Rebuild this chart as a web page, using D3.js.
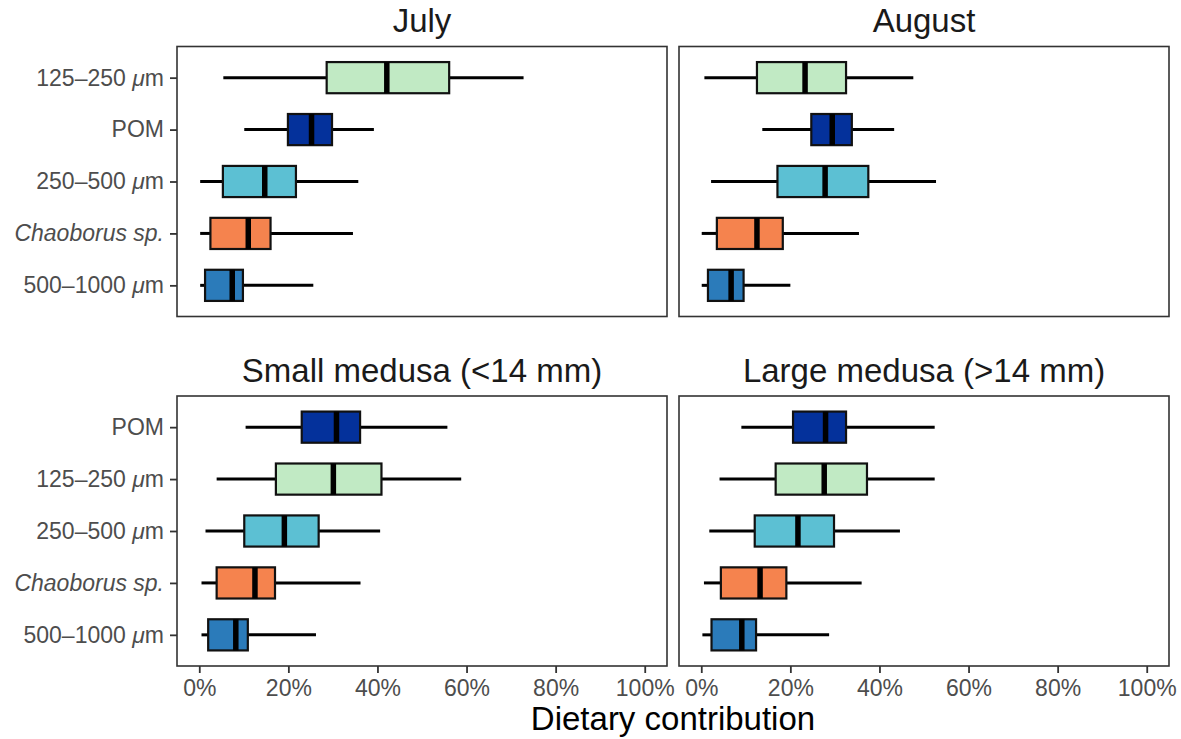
<!DOCTYPE html>
<html>
<head>
<meta charset="utf-8">
<script src="https://cdn.jsdelivr.net/npm/d3@7"></script>
<style>
  html, body { margin: 0; padding: 0; background: #fff; }
  svg { display: block; font-family: "Liberation Sans", Arial, Helvetica, sans-serif; }
</style>
</head>
<body>
<svg id="chart" width="1181" height="739"></svg>
<script>
// Prey sources (each with its fill colour)
const sources = ["125–250 μm", "POM", "250–500 μm", "Chaoborus sp.", "500–1000 μm"];
const sourceColors = ["#c1eac4", "#04319b", "#5cc0d3", "#f5834e", "#2b7bba"];

// Row order (top to bottom) for each row of facets
const topRowOrder = ["125–250 μm", "POM", "250–500 μm", "Chaoborus sp.", "500–1000 μm"];
const bottomRowOrder = ["POM", "125–250 μm", "250–500 μm", "Chaoborus sp.", "500–1000 μm"];

const panelTitles = ["July", "August", "Small medusa (<14 mm)", "Large medusa (>14 mm)"];

// Box statistics in percent, listed in `sources` order:
// [lower whisker, first quartile, median, third quartile, upper whisker]
const julyStats = [
  [5.4, 28.6, 42.1, 56.1, 72.8],
  [10.1, 19.9, 25.2, 29.8, 39.2],
  [0.2, 5.3, 14.7, 21.7, 35.7],
  [0.2, 2.5, 11.0, 16.0, 34.5],
  [0.2, 1.3, 7.4, 9.8, 25.6]
];
const augustStats = [
  [0.7, 12.5, 23.3, 32.5, 47.6],
  [13.7, 24.7, 29.4, 33.8, 43.3],
  [2.2, 17.1, 27.8, 37.5, 52.7],
  [0.1, 3.5, 12.5, 18.3, 35.4],
  [0.1, 1.5, 6.7, 9.5, 20.0]
];
const smallMedusaStats = [
  [3.9, 17.2, 30.1, 40.9, 58.8],
  [10.4, 23.0, 30.8, 36.1, 55.7],
  [1.4, 10.1, 19.1, 26.8, 40.6],
  [0.5, 3.9, 12.5, 17.0, 36.2],
  [0.5, 2.0, 8.2, 10.9, 26.2]
];
const largeMedusaStats = [
  [4.1, 16.7, 27.6, 37.2, 52.4],
  [9.0, 20.6, 27.9, 32.5, 52.4],
  [1.8, 12.0, 21.7, 29.8, 44.6],
  [0.6, 4.4, 13.2, 19.1, 36.0],
  [0.25, 2.3, 9.1, 12.3, 28.7]
];

const xTicks = [0, 20, 40, 60, 80, 100];
const xTitle = "Dietary contribution";

// ---- layout ----
const svg = d3.select("#chart");
const colX = [[177, 667], [679, 1169]];
const rowY = [[46.5, 316.5], [396, 666]];

const panels = [
  { title: panelTitles[0], stats: julyStats, col: 0, row: 0, order: topRowOrder },
  { title: panelTitles[1], stats: augustStats, col: 1, row: 0, order: topRowOrder },
  { title: panelTitles[2], stats: smallMedusaStats, col: 0, row: 1, order: bottomRowOrder },
  { title: panelTitles[3], stats: largeMedusaStats, col: 1, row: 1, order: bottomRowOrder }
];

const labelFont = 23;
const tickGrey = "#4d4d4d";

// Writes a source name with the right italics (species italic, μ italic)
function richLabel(textSel, name) {
  textSel.text(null);
  if (name.startsWith("Chaoborus")) {
    textSel.append("tspan").attr("font-style", "italic").text(name);
    return;
  }
  const i = name.indexOf("μ");
  if (i < 0) { textSel.text(name); return; }
  textSel.append("tspan").text(name.slice(0, i));
  textSel.append("tspan").attr("font-style", "italic").text("μ");
  textSel.append("tspan").text(name.slice(i + 1));
}

panels.forEach(p => {
  const [x0, x1] = colX[p.col];
  const [y0, y1] = rowY[p.row];
  const w = x1 - x0, h = y1 - y0;

  // 5% expansion either side of 0–100%
  const x = d3.scaleLinear().domain([-5, 105]).range([x0, x1]);
  const y = d3.scalePoint().domain(p.order).range([y0, y1]).padding(0.6);
  const boxH = y.step() * 0.6;

  const g = svg.append("g");

  // panel frame
  g.append("rect")
    .attr("x", x0).attr("y", y0).attr("width", w).attr("height", h)
    .attr("fill", "#fff").attr("stroke", "#333").attr("stroke-width", 1.6);

  // facet title
  g.append("text")
    .attr("x", (x0 + x1) / 2).attr("y", y0 - 14.5)
    .attr("text-anchor", "middle")
    .attr("font-size", 33).attr("fill", "#1a1a1a")
    .text(p.title);

  const rows = sources.map((s, i) => ({ source: s, color: sourceColors[i], v: p.stats[i] }));

  const box = g.selectAll("g.box").data(rows).join("g").attr("class", "box");

  // whiskers
  box.append("line")
    .attr("x1", d => x(d.v[0])).attr("x2", d => x(d.v[1]))
    .attr("y1", d => y(d.source)).attr("y2", d => y(d.source))
    .attr("stroke", "#000").attr("stroke-width", 3);
  box.append("line")
    .attr("x1", d => x(d.v[3])).attr("x2", d => x(d.v[4]))
    .attr("y1", d => y(d.source)).attr("y2", d => y(d.source))
    .attr("stroke", "#000").attr("stroke-width", 3);

  // interquartile box
  box.append("rect")
    .attr("x", d => x(d.v[1])).attr("width", d => x(d.v[3]) - x(d.v[1]))
    .attr("y", d => y(d.source) - boxH / 2).attr("height", boxH)
    .attr("fill", d => d.color).attr("stroke", "#111").attr("stroke-width", 2.2);

  // median
  box.append("line")
    .attr("x1", d => x(d.v[2])).attr("x2", d => x(d.v[2]))
    .attr("y1", d => y(d.source) - boxH / 2).attr("y2", d => y(d.source) + boxH / 2)
    .attr("stroke", "#000").attr("stroke-width", 5.5);

  // y axis (left column only shows labels)
  if (p.col === 0) {
    const ya = g.append("g").attr("transform", `translate(${x0},0)`)
      .call(d3.axisLeft(y).tickSize(7).tickPadding(6));
    ya.select(".domain").remove();
    ya.selectAll(".tick line").attr("stroke", "#333").attr("stroke-width", 1.8);
    ya.selectAll(".tick text")
      .attr("font-size", labelFont).attr("fill", tickGrey)
      .attr("font-family", null)
      .each(function (d) { richLabel(d3.select(this), d); });
  }

  // x axis (bottom row only)
  if (p.row === 1) {
    const xa = g.append("g").attr("transform", `translate(0,${y1})`)
      .call(d3.axisBottom(x).tickValues(xTicks).tickFormat(d => d + "%").tickSize(7).tickPadding(7));
    xa.select(".domain").remove();
    xa.selectAll(".tick line").attr("stroke", "#333").attr("stroke-width", 1.8);
    xa.selectAll(".tick text")
      .attr("font-size", labelFont).attr("fill", tickGrey)
      .attr("font-family", null);
  }
});

// shared x-axis title
svg.append("text")
  .attr("x", (colX[0][0] + colX[1][1]) / 2).attr("y", 729.5)
  .attr("text-anchor", "middle")
  .attr("font-size", 33).attr("fill", "#000")
  .text(xTitle);
</script>
</body>
</html>
